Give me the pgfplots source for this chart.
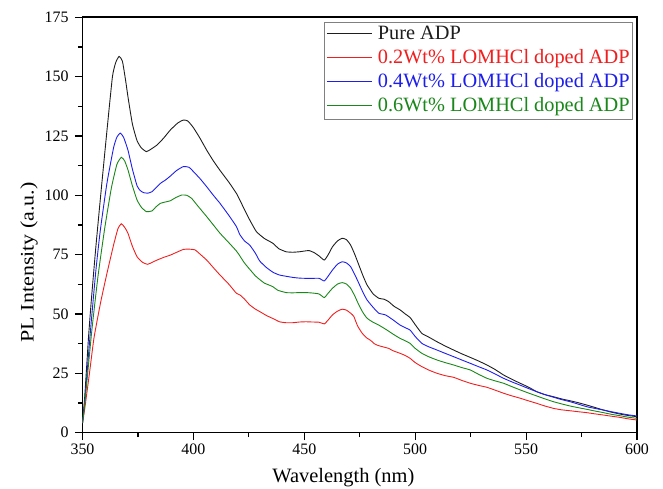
\documentclass[border=0pt]{standalone}
\usepackage{fontspec}
\setmainfont{Liberation Serif}
\newfontfamily\labfont{Liberation Serif}[FakeStretch=1.15]
\usepackage{pgfplots}
\pgfplotsset{compat=1.18}
\definecolor{cblack}{RGB}{30,30,30}
\definecolor{cred}{RGB}{240,30,30}
\definecolor{cblue}{RGB}{30,30,235}
\definecolor{cgreen}{RGB}{25,135,25}
\newcommand{\legline}{\rule[0.31em]{45bp}{0.9bp}\hspace{6bp}}
\begin{document}
\begin{tikzpicture}
\begin{axis}[
  scale only axis,
  width=554.5bp, height=415.3bp,
  xmin=350, xmax=600, ymin=0, ymax=175,
  xtick={350,400,...,600}, ytick={0,25,...,175},
  minor x tick num=1, minor y tick num=1,
  tick align=outside, xtick pos=bottom, ytick pos=left,
  major tick length=7.5bp, minor tick length=4.5bp,
  every tick/.style={line width=1.2bp, black},
  axis line style={line width=1.6bp},
  /pgf/number format/assume math mode=true,
  ticklabel style={font=\fontsize{16}{18}\selectfont},
  yticklabel style={xshift=-3bp},
  xlabel={\fontsize{20.5}{24}\selectfont Wavelength (nm)},
  ylabel={\labfont\fontsize{19.2}{22}\selectfont PL Intensity (a.u.)},
  xlabel style={at={(ticklabel cs:0.4705)}, yshift=-7bp},
  ylabel style={at={(ticklabel cs:0.41)}},
  legend image code/.code={},
  legend cell align=left,
  legend style={at={(1,1)}, anchor=north east, xshift=-4bp, yshift=-4.7bp,
    draw=gray, line width=0.7bp, fill=white,
    font=\fontsize{20.4}{24}\selectfont,
    nodes={inner xsep=2bp, inner ysep=0bp, text height=14.5bp, text depth=5bp},
    row sep=4.5bp, inner xsep=1bp, inner ysep=3bp},
  every axis plot/.append style={line width=0.9bp, smooth, tension=0.3},
]
\addplot[draw=cblack] coordinates {
(350,4) (351,15) (352.7,40) (354,56) (356,78) (358.2,100) (361,127) (363.5,150)
(365,156) (366.5,158.5) (368,156.5) (369.5,148) (370.5,141.5) (372.5,130) (374.6,123)
(376.5,120) (378.8,118.4) (381,119.5) (383.6,121.2) (386.5,124) (389.6,127.5) (393,130.5)
(395.5,131.7) (397.5,131.3) (400,128.5) (403,124) (406,119) (409,114.5) (412,110.5)
(416,105.5) (419.4,100.8) (421,97.9) (423,94) (425.4,89.6) (428.4,84.7) (432,81.8)
(435.8,79.8) (438.5,77.5) (441.8,76.2) (444.8,76) (447.8,76.2) (450,76.5) (452.2,76.7)
(454.5,75.8) (456.7,74.4) (459,72.7) (460.8,75) (462.7,78.3) (465,80.8) (467.1,81.9)
(469,81.3) (470.9,79) (472.8,75) (474.6,70.6) (476.5,66) (478.3,62.2) (481,58.5)
(483.6,56.6) (486,56.2) (488,55.2) (490.5,53.2) (493.2,51.7) (495.5,50) (497.7,48.5)
(500,45.5) (503,41.8) (506,40.3) (509.8,38.3) (513.5,36.5) (517.3,34.8) (521,33.2)
(524.8,31.7) (528.5,30.2) (532.3,28.5) (536,26.6) (539.8,24.3) (543.5,22.5) (547.3,20.8)
(551,19.2) (554.9,17.2) (558.5,16) (562.4,15.1) (566,14.2) (569.9,13.4) (573.5,12.6)
(577.4,11.6) (581,10.6) (584.9,9.5) (588.5,8.6) (592.4,7.8) (596,7.2) (600,6.7)
};
\addlegendentry[text=cblack]{\legline Pure ADP}
\addplot[draw=cred] coordinates {
(350,4) (351,10) (353,24) (355.2,40) (358.2,55) (361,67) (364,79) (366,86) (367.5,88)
(369,86.5) (370.5,84) (372.5,78.5) (374.6,74.1) (377,71.8) (379.3,70.9) (381.5,71.8)
(383.6,72.7) (386.5,73.8) (389.6,74.8) (392.5,76) (395.5,77.2) (398,77.3) (400.7,77)
(403,75.2) (406,72.7) (409,69.5) (412,66.4) (416,62.5) (419.4,58.7) (421,58) (423,56.3)
(425.4,53.8) (428,52) (429.9,51) (433,49.3) (436,48) (438.8,46.7) (441.8,46.3)
(444.8,46.3) (447.8,46.6) (450.8,46.7) (453.8,46.6) (456.7,46.5) (459,45.8) (460.8,47.5)
(462.7,49.6) (465,51.2) (467.1,52) (469,51.6) (470.9,50.3) (472.3,49) (474,45) (476,42)
(478,40) (480,38.8) (481.5,37.5) (483,36.8) (486,36) (488,35.5) (490,34.5) (493.2,33.4)
(495.5,32.5) (497.7,31.3) (500,29.5) (503,27.8) (506,26.4) (509.8,25) (513.5,24)
(517.3,23.3) (521,22) (524.8,20.8) (528.5,19.9) (532.3,19.1) (536,17.9) (539.8,16.6)
(543.5,15.5) (547.3,14.5) (551,13.4) (554.9,12.3) (558.5,11.2) (562.4,10.2) (566,9.6)
(569.9,9.2) (573.5,8.8) (577.4,8.4) (581,7.9) (584.9,7.4) (588.5,6.9) (592.4,6.4)
(596,5.8) (600,5.3)
};
\addlegendentry[text=cred]{\legline 0.2Wt\% LOMHCl doped ADP}
\addplot[draw=cblue] coordinates {
(350,4) (351,13) (353.6,43) (356,68) (358,85) (361,105) (364,120) (365.5,124.5)
(367,126.2) (368.5,124.5) (370.5,119) (372.5,111) (374.6,104) (376,102) (377.6,101.1)
(379.5,100.9) (381.3,101.5) (383,103) (385.1,105) (387.5,106.5) (389.6,108.1)
(392.5,110.5) (395.5,112.1) (398,111.8) (400,110) (403,107) (406,103.6) (409,100)
(412,96.6) (416,91.5) (419.4,86.8) (420.9,83.5) (423,80.8) (425.4,79) (428,75.5)
(429.9,72.3) (433,69.5) (436,67.5) (438.8,66.4) (441,66) (444.8,65.4) (447.8,65.1)
(450.8,65) (453.8,65) (456.7,65) (459,63.9) (460.8,66) (462.7,68.5) (465,71) (467.1,72)
(469,71.5) (470.9,69.9) (472.8,66.5) (474.6,62.9) (476.5,59) (478.3,55.9) (481,52.8)
(483.6,50.3) (486.6,49.6) (490,47.5) (493.2,45.3) (495.5,44.2) (497.7,43.2) (500,40.5)
(503,37.6) (506,36.2) (509.8,34.8) (513.5,33.4) (517.3,32) (521,30.6) (524.8,29.2)
(528.5,27.8) (532.3,26.4) (536,24.7) (539.8,22.9) (543.5,21.4) (547.3,20) (551,18.6)
(554.9,17.2) (558.5,16) (562.4,14.9) (566,13.9) (569.9,13) (573.5,12) (577.4,10.9)
(581,10.2) (584.9,9.5) (588.5,8.8) (592.4,8.1) (596,7.5) (600,7)
};
\addlegendentry[text=cblue]{\legline 0.4Wt\% LOMHCl doped ADP}
\addplot[draw=cgreen] coordinates {
(350,4) (351,12) (354.2,43) (357,66) (360,86) (363,103) (365.5,113) (367.5,116)
(369,114.5) (370.5,110.7) (372.5,104) (374.6,98) (376.5,95) (378.8,93.1) (381.3,93.4)
(383,95) (385.1,96.6) (387.5,97.2) (389.6,97.7) (392,99) (394.7,100.1) (397,100)
(399.2,98.7) (402,95.5) (406,91) (409,87.5) (412,84) (416,80) (419.4,76.5) (420.9,74.5)
(423,71.5) (425.4,68.8) (428,66) (429.9,64.5) (432,63) (435.8,61.5) (438,60) (441.8,59)
(444.8,58.9) (447.8,59) (450.8,59) (453.8,58.8) (456.7,58.4) (459,56.9) (460.8,58.8)
(462.7,60.8) (465,62.6) (467.1,63.2) (469,62.6) (470.9,60.8) (472.8,57.5) (474.6,53.8)
(476.5,50.5) (478.3,48.2) (481,46.5) (483.6,45.3) (487.3,43.2) (490,41.5) (493.2,39.7)
(495.5,38.7) (497.7,37.6) (500,35.5) (503,33.4) (506,32) (509.8,30.6) (513.5,29.5)
(517.3,28.5) (521,27.4) (524.8,26.4) (528.5,24.6) (532.3,22.9) (536,21.8) (539.8,20.8)
(543.5,19.4) (547.3,18) (551,16.7) (554.9,15.4) (558.5,14.2) (562.4,13) (566,12.1)
(569.9,11.2) (573.5,10.5) (577.4,9.8) (581,9.1) (584.9,8.4) (588.5,7.7) (592.4,7.1)
(596,6.5) (600,6)
};
\addlegendentry[text=cgreen]{\legline 0.6Wt\% LOMHCl doped ADP}
\end{axis}
\pgfresetboundingbox
\path (-82.5bp,-56.4bp) rectangle (580.5bp,432.6bp);
\end{tikzpicture}
\end{document}
